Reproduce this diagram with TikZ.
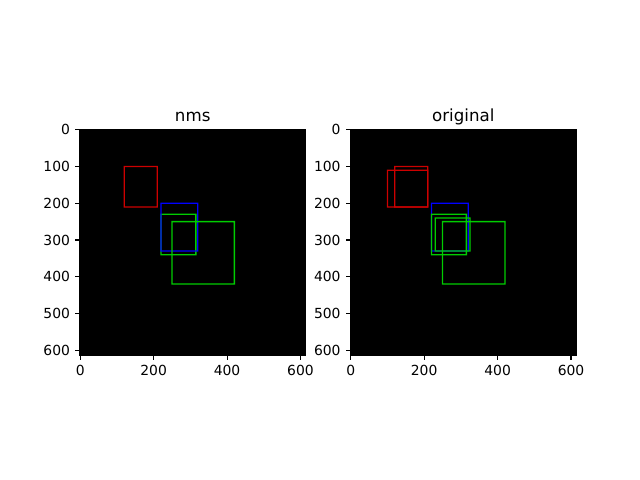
\documentclass[tikz,border=0pt]{standalone}
\usepackage{fontspec}
\setmainfont{DejaVu Sans}
\usetikzlibrary{calc}
\definecolor{boxred}{RGB}{205,0,0}
\definecolor{boxgreen}{RGB}{0,205,0}
\definecolor{boxblue}{RGB}{0,0,255}
% box outline as a filled frame, data units
\def\bboxframe[#1](#2,#3)(#4,#5){\fill[#1,even odd rule] (#2-1.8,#3-1.8) rectangle (#4+1.8,#5+1.8) (#2+1.8,#3+1.8) rectangle (#4-1.8,#5-1.8);}

\begin{document}
\begin{tikzpicture}[x=0.72pt,y=-0.72pt,
  axtick/.style={line width=0.8pt},
  ticklabel/.style={font=\fontsize{10}{12}\selectfont,inner sep=0pt},
  plottitle/.style={font=\fontsize{12}{14}\selectfont,inner sep=0pt,anchor=base},
  data/.style={x=0.26437pt,y=-0.26437pt,shift={(0.5,0.5)}}]
			%%%%% START %%%%%
			
			\useasboundingbox[fill=white] (0,0) rectangle (640,480);
			
			%%%%% nms %%%%%
			\begin{scope}[shift={(80,129.67)}]
			\fill[black] (0,0) rectangle (225.45,225.45);
			\draw[line width=0.8pt] (0,0) rectangle (225.45,225.45);
			\node[plottitle] (nmstitle) at ($(112.72,0)+(0,6pt)$) {nms};
			\begin{scope}[data]
			\foreach \v in {0,200,400,600}{
				\draw[axtick] (\v,613.5) -- ++(0,-3.5pt);
				\node[ticklabel,anchor=north] (nmsx\v) at ($(\v,613.5)+(0,-7pt)$) {\v};
			}
			\foreach \v in {0,100,...,600}{
				\draw[axtick] (-0.5,\v) -- ++(-3.5pt,0);
				\node[ticklabel,anchor=east] (nmsy\v) at ($(-0.5,\v)+(-7pt,0)$) {\v};
			}
			
			\bboxframe[boxred](120,100)(210,210)
			\bboxframe[boxgreen](220,230)(315,340)
			\bboxframe[boxblue](220,200)(320,330)
			\bboxframe[boxgreen](250,250)(420,420)
			\end{scope}
			\end{scope}
			
			%%%%% original %%%%%
			\begin{scope}[shift={(350.54,129.67)}]
			\fill[black] (0,0) rectangle (225.45,225.45);
			\draw[line width=0.8pt] (0,0) rectangle (225.45,225.45);
			\node[plottitle] (origtitle) at ($(112.72,0)+(0,6pt)$) {original};
			\begin{scope}[data]
			\foreach \v in {0,200,400,600}{
				\draw[axtick] (\v,613.5) -- ++(0,-3.5pt);
				\node[ticklabel,anchor=north] (origx\v) at ($(\v,613.5)+(0,-7pt)$) {\v};
			}
			\foreach \v in {0,100,...,600}{
				\draw[axtick] (-0.5,\v) -- ++(-3.5pt,0);
				\node[ticklabel,anchor=east] (origy\v) at ($(-0.5,\v)+(-7pt,0)$) {\v};
			}
			
			\bboxframe[boxred](120,100)(210,210)
			\bboxframe[boxred](100,110)(210,210)
			\bboxframe[boxblue](220,200)(320,330)
			\bboxframe[boxgreen](220,230)(315,340)
			\bboxframe[boxgreen](230,240)(325,330)
			\bboxframe[boxgreen](250,250)(420,420)
			\end{scope}
			\end{scope}
			
			%%%%% END %%%%%
\end{tikzpicture}
\end{document}
